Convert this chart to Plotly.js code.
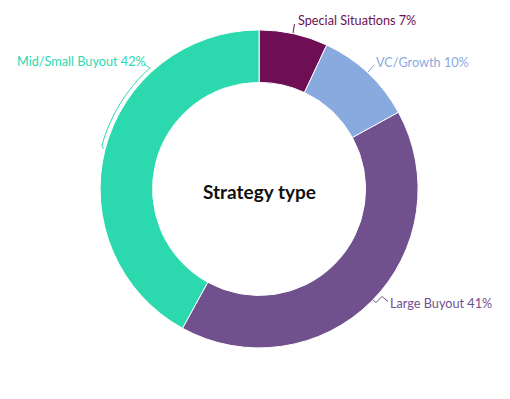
<!DOCTYPE html>
<html>
<head>
<meta charset="utf-8">
<script src="https://cdn.plot.ly/plotly-3.0.1.min.js"></script>
<style>html,body{margin:0;padding:0;background:#fff;}#chart{width:510px;height:399px;}</style>
</head>
<body>
<div id="chart"></div>
<script>
const categories = ["Special Situations", "VC/Growth", "Large Buyout", "Mid/Small Buyout"];
const shares = [7, 10, 41, 42];
const sliceColors = ["#6E0F55", "#89AADF", "#71508E", "#2CD9AF"];
const centerTitle = "Strategy type";

const W = 510, H = 399;
const FONT = "Lato, 'Open Sans', sans-serif";
const px = x => x / W;
const py = y => 1 - y / H;

// label placement (pixels) and leader-line polylines, one per category
const labelPlace = [
  {x: 297, y: 20, anchor: "left"},
  {x: 375, y: 62, anchor: "left"},
  {x: 389, y: 303, anchor: "left"},
  {x: 147, y: 61, anchor: "right"}
];
function arcPts(a0, a1, r, n) {
  const cx = 259, cy = 189, pts = [];
  for (let i = 0; i <= n; i++) {
    const a = (a0 + (a1 - a0) * i / n) * Math.PI / 180;
    pts.push([cx + r * Math.sin(a), cy - r * Math.cos(a)]);
  }
  return pts;
}
const leaders = [
  [[293, 33], [294.5, 24]],
  [[368, 72], [374, 65]],
  [[373, 300], [376, 302.5], [382, 296.5], [388, 301.5]],
  [[144, 64], [150, 68]].concat(arcPts(318, 285.5, 163, 12)).concat([[103.5, 149]])
];

const trace = {
  type: "pie",
  labels: categories,
  values: shares,
  sort: false,
  direction: "clockwise",
  rotation: 0,
  hole: 0.67,
  marker: {colors: sliceColors, line: {color: "#ffffff", width: 1}},
  textinfo: "none",
  domain: {x: [0.196, 0.820], y: [0.128, 0.925]},
  showlegend: false,
  hoverinfo: "label+percent"
};

const annotations = categories.map((c, i) => ({
  text: c + " " + shares[i] + "%",
  showarrow: false,
  xref: "paper", yref: "paper",
  x: px(labelPlace[i].x), y: py(labelPlace[i].y),
  xanchor: labelPlace[i].anchor, yanchor: "middle",
  borderpad: 0,
  font: {family: FONT, size: 12.7, color: sliceColors[i]}
}));
annotations.push({
  text: centerTitle, showarrow: false,
  xref: "paper", yref: "paper", x: 0.508, y: py(191),
  xanchor: "center", yanchor: "middle",
  font: {family: FONT, size: 19, color: "#111111", weight: "bold"}
});

const shapes = leaders.map((pts, i) => ({
  type: "path",
  xref: "paper", yref: "paper",
  path: pts.map((p, k) => (k ? "L" : "M") + px(p[0]).toFixed(5) + "," + py(p[1]).toFixed(5)).join(" "),
  line: {color: sliceColors[i], width: 1},
  fillcolor: "rgba(0,0,0,0)"
}));

const layout = {
  width: W, height: H,
  margin: {l: 0, r: 0, t: 0, b: 0},
  paper_bgcolor: "#ffffff",
  showlegend: false,
  annotations: annotations,
  shapes: shapes
};

Plotly.newPlot("chart", [trace], layout, {displayModeBar: false, staticPlot: true});
</script>
</body>
</html>
